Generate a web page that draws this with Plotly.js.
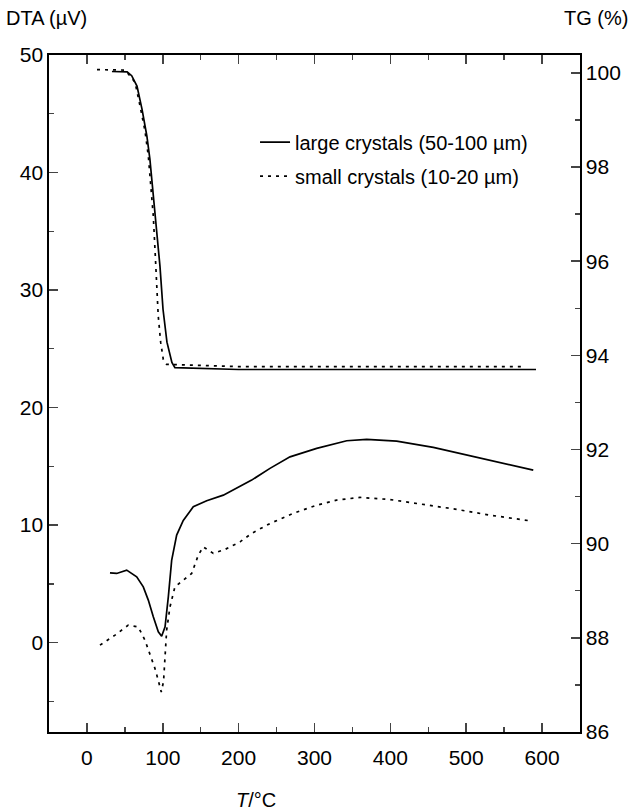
<!DOCTYPE html>
<html>
<head>
<meta charset="utf-8">
<script src="https://cdn.plot.ly/plotly-3.0.1.min.js"></script>
<style>html,body{margin:0;padding:0;background:#fff;}#chart{width:637px;height:811px;}</style>
</head>
<body>
<div id="chart"></div>
<script>
// TG curves (right axis, %)
const tgLargeT = [33, 53, 59, 66, 72.6, 79, 83, 87, 92.4, 96.3, 100.3, 105.5, 112, 116, 200, 300, 400, 500, 592];
const tgLargeV = [100.03, 100.02, 99.94, 99.72, 99.23, 98.66, 98.17, 97.47, 96.68, 95.89, 94.98, 94.28, 93.85, 93.74, 93.7, 93.7, 93.7, 93.7, 93.7];
const tgSmallT = [13.3, 50.2, 54.5, 63.4, 70, 76.5, 80.9, 84, 87.5, 89.7, 92, 94, 97.2, 100.7, 105, 200, 300, 400, 500, 577];
const tgSmallV = [100.07, 100.06, 99.98, 99.8, 99.3, 98.77, 98.24, 97.68, 96.96, 96.26, 95.55, 94.84, 94.28, 93.91, 93.81, 93.76, 93.76, 93.76, 93.76, 93.76];
// DTA curves (left axis, µV)
const dtaLargeT = [30.4, 39.2, 52.4, 65.6, 74.3, 80.9, 87.5, 94.1, 98.5, 103, 107.3, 111.7, 118.3, 127, 140.2, 157.9, 179.8, 197.4, 217.2, 241.3, 267.7, 302.9, 342.5, 368.8, 408.3, 456.6, 500.6, 548.9, 588.4];
const dtaLargeV = [5.94, 5.89, 6.17, 5.6, 4.75, 3.62, 2.2, 0.92, 0.55, 1.35, 3.9, 7.0, 9.15, 10.4, 11.56, 12.07, 12.55, 13.12, 13.83, 14.83, 15.81, 16.53, 17.18, 17.29, 17.15, 16.61, 15.96, 15.25, 14.68];
const dtaSmallT = [17.2, 37, 54.5, 67.7, 76.5, 83.1, 89.7, 94, 98, 101, 105.1, 109.5, 116, 138.1, 146.8, 153.4, 166.6, 182, 201.8, 217.2, 241.3, 272, 303, 329, 360, 399.5, 443.4, 487.4, 531.3, 584];
const dtaSmallV = [-0.21, 0.64, 1.49, 1.34, 0.21, -0.92, -2.2, -3.2, -4.2, -3.3, 1.06, 3.05, 4.75, 5.89, 7.45, 8.15, 7.6, 7.93, 8.58, 9.3, 10.14, 11.0, 11.7, 12.13, 12.36, 12.18, 11.79, 11.34, 10.85, 10.37];

const names = ['large crystals (50-100 µm)', 'small crystals (10-20 µm)'];
const xTicks = [0, 100, 200, 300, 400, 500, 600];
const yTicks = [0, 10, 20, 30, 40, 50];
const y2Ticks = [86, 88, 90, 92, 94, 96, 98, 100];

const solid = {color: '#000', width: 1.7};
const dotted = {color: '#000', width: 1.7, dash: '3px,5px'};

const traces = [
  {x: tgLargeT, y: tgLargeV, yaxis: 'y2', mode: 'lines', line: solid, name: names[0], legendgroup: 'a', showlegend: true},
  {x: tgSmallT, y: tgSmallV, yaxis: 'y2', mode: 'lines', line: dotted, name: names[1], legendgroup: 'b', showlegend: true},
  {x: dtaLargeT, y: dtaLargeV, mode: 'lines', line: solid, name: names[0], legendgroup: 'a', showlegend: false},
  {x: dtaSmallT, y: dtaSmallV, mode: 'lines', line: dotted, name: names[1], legendgroup: 'b', showlegend: false}
];

const font = {family: 'Liberation Sans, Arial, sans-serif', color: '#000'};

const layout = {
  width: 637, height: 811,
  margin: {l: 49, r: 57, t: 55, b: 79},
  paper_bgcolor: '#fff', plot_bgcolor: '#fff',
  font: Object.assign({size: 21}, font),
  showlegend: true,
  legend: {x: 0.388, y: 0.9, xanchor: 'left', yanchor: 'top', bgcolor: 'rgba(0,0,0,0)',
           font: Object.assign({size: 20}, font), traceorder: 'grouped', tracegroupgap: 5, itemwidth: 30},
  xaxis: {range: [-50, 650], tickvals: xTicks, ticks: 'inside', ticklen: 9, tickwidth: 1.5, ticklabelstandoff: 6,
          showline: true, linewidth: 1.6, linecolor: '#000', mirror: 'ticks', zeroline: false, showgrid: false,
          minor: {dtick: 50, tick0: 0, ticks: 'inside', ticklen: 5, tickwidth: 1.3, showgrid: false},
          tickfont: Object.assign({size: 21}, font)},
  yaxis: {range: [-7.6, 50], tickvals: yTicks, ticks: 'inside', ticklen: 9, tickwidth: 1.5,
          showline: true, linewidth: 1.6, linecolor: '#000', zeroline: false, showgrid: false,
          minor: {dtick: 5, tick0: 0, ticks: 'inside', ticklen: 5, tickwidth: 1.3, showgrid: false},
          tickfont: Object.assign({size: 21}, font)},
  yaxis2: {range: [86, 100.38], tickvals: y2Ticks, overlaying: 'y', side: 'right', ticks: 'inside', ticklen: 9, tickwidth: 1.5,
           showline: true, linewidth: 1.6, linecolor: '#000', zeroline: false, showgrid: false,
           minor: {dtick: 1, tick0: 86, ticks: 'inside', ticklen: 5, tickwidth: 1.3, showgrid: false},
           tickfont: Object.assign({size: 21}, font)},
  annotations: [
    {text: 'DTA (µV)', xref: 'paper', yref: 'paper', x: -0.085, y: 1.055, xanchor: 'left', yanchor: 'middle', showarrow: false, font: Object.assign({size: 20}, font)},
    {text: 'TG (%)', xref: 'paper', yref: 'paper', x: 1.095, y: 1.055, xanchor: 'right', yanchor: 'middle', showarrow: false, font: Object.assign({size: 20}, font)},
    {text: '<i>T</i>/°C', xref: 'paper', yref: 'paper', x: 0.39, y: -0.1, xanchor: 'center', yanchor: 'middle', showarrow: false, font: Object.assign({size: 20}, font)}
  ]
};

Plotly.newPlot('chart', traces, layout, {displayModeBar: false, staticPlot: true});
</script>
</body>
</html>
